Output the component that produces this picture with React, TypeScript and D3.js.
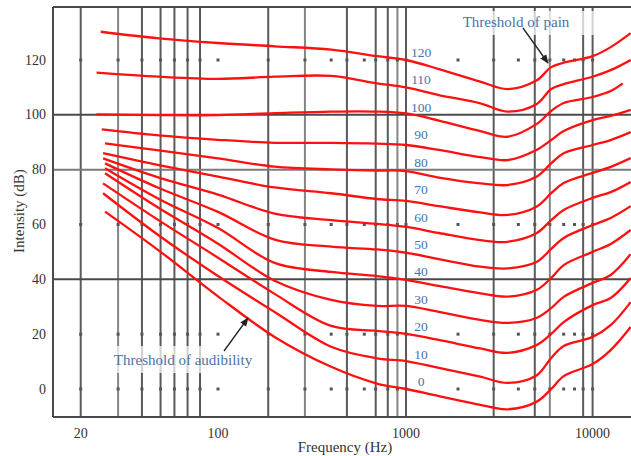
import React from "react";
import * as d3 from "d3";

const W = 631;
const H = 456;

// frequency grid of the sampled contour points (first/last replaced per curve)
const freqs = [0, 50, 100, 200, 400, 700, 1000, 1500, 2500, 3500, 5000, 6000, 7000, 10000, 12500, 0];
const phons = [0, 10, 20, 30, 40, 50, 60, 70, 80, 90, 100, 110, 120];
const startHz = [26.6, 26, 26, 26.6, 26.6, 26.6, 26, 26, 26.6, 25.6, 24.1, 24.1, 25.3];
const endHz = [16000, 16000, 16000, 16000, 16000, 16000, 16000, 16000, 16000, 16000, 14500, 16000, 16000];

const curve0 = [64.7, 50.5, 33.8, 19.0, 8.1, 2.0, 0, -2.6, -5.8, -7.4, -4.7, 0, 4.7, 9.1, 14.2, 22.6];
const curve10 = [71.4, 56.0, 41.2, 28.1, 15.4, 11.2, 10.2, 7.7, 4.5, 2.2, 4.9, 11.3, 15.7, 19.0, 23.3, 31.7];
const curve20 = [75.0, 61.5, 47.9, 34.7, 23.0, 21.2, 20.1, 17.9, 14.8, 13.2, 16.0, 20.1, 24.4, 30.6, 33.2, 40.5];
const curve30 = [78.7, 66.0, 53.0, 39.5, 32.5, 30.3, 30.3, 28.1, 25.2, 24.1, 25.9, 29.5, 33.6, 38.7, 41.6, 49.2];
const curve40 = [80.5, 69.3, 58.7, 46.0, 42.7, 41.2, 39.8, 37.6, 34.9, 33.7, 36.1, 40.5, 45.2, 50.0, 52.9, 58.0];
const curve50 = [82.3, 73.3, 64.6, 54.5, 51.9, 50.9, 49.7, 47.4, 44.6, 44.0, 46.3, 51.1, 55.1, 59.8, 62.4, 66.7];
const curve60 = [84.1, 77.1, 70.9, 64.0, 61.6, 60.2, 59.1, 56.9, 54.3, 53.7, 56.8, 61.6, 65.3, 69.7, 71.8, 75.5];
const curve70 = [86.0, 81.7, 77.5, 73.5, 71.4, 69.3, 68.6, 66.7, 64.4, 63.5, 66.5, 71.4, 75.1, 78.8, 81.0, 84.2];
const curve80 = [89.6, 87.0, 84.1, 81.1, 80.1, 79.7, 79.5, 77.1, 75.0, 74.4, 77.4, 82.3, 86.0, 89.0, 90.8, 93.7];
const curve90 = [94.7, 92.5, 90.9, 89.8, 89.8, 89.5, 89.0, 87.2, 84.6, 83.5, 87.2, 90.8, 94.1, 98.1, 99.6, 101.8];
const curve100 = [100.2, 99.9, 99.9, 100.6, 101.2, 101.2, 100.5, 97.9, 94.1, 92.0, 96.6, 101.4, 104.3, 106.5, 108.7, 111.5];
const curve110 = [115.4, 113.9, 113.1, 113.9, 114.2, 111.5, 110.0, 107.2, 104.2, 101.2, 103.9, 109.4, 111.2, 113.9, 116.3, 120.0];
const curve120 = [130.3, 127.9, 126.2, 125.0, 123.8, 121.4, 120.0, 116.7, 112.1, 109.4, 112.5, 117.4, 119.0, 121.4, 124.7, 129.8];
const curves = [curve0, curve10, curve20, curve30, curve40, curve50, curve60, curve70, curve80, curve90, curve100, curve110, curve120];

// grid
const gridHz = [20, 31, 41, 51, 60, 70, 81, 185, 290, 485, 690, 800, 900, 1000, 2950, 4900, 5900, 8900, 10000];
const lightHz = [31, 290, 900, 5900];
const dotHz = [20, 31, 41, 51, 60, 70, 81, 100, 185, 290, 400, 485, 600, 690, 800, 900, 1000, 1900, 2950, 4000, 4900, 5900, 7000, 8000, 8900, 10000];
const dotDb = [120, 60, 20, 0];
const lineDb = [100, 80, 40];

const xTicks = [20, 100, 1000, 10000];
const yTicks = [0, 20, 40, 60, 80, 100, 120];

const serif = "'Liberation Serif', 'Times New Roman', serif";
const blue = "#4574aa";

export default function App() {
  const left = 53, top = 7, right = 631, bottom = 417;
  const x = d3.scaleLog().domain([20, 100, 1000, 10000]).range([80.7, 218, 406, 592.6]);
  const y = d3.scaleLinear().domain([0, 120]).range([389, 60]);

  const line = d3
    .line<[number, number]>()
    .x((d) => x(d[0]))
    .y((d) => y(d[1]))
    .curve(d3.curveCatmullRom.alpha(0.5));

  const paths = curves.map((c, i) => {
    const pts: [number, number][] = c.map((v, j) => {
      let f = freqs[j];
      if (j === 0) f = startHz[i];
      if (j === c.length - 1) f = endHz[i];
      return [f, v];
    });
    return line(pts) || "";
  });

  return (
    <svg width={W} height={H} style={{ position: "absolute", left: 0, top: 0, background: "#fff" }}>
      <defs>
        <clipPath id="plot">
          <rect x={left} y={top} width={right - left} height={bottom - top} />
        </clipPath>
        <marker id="head" viewBox="0 0 10 10" refX="9" refY="5" markerWidth="7" markerHeight="7" orient="auto">
          <path d="M0,1 L10,5 L0,9 z" fill="#222" />
        </marker>
      </defs>
      <rect width={W} height={H} fill="#fff" />

      {gridHz.map((f) => (
        <line key={"v" + f} x1={x(f)} x2={x(f)} y1={top} y2={bottom}
          stroke={lightHz.includes(f) ? "#858585" : "#5a5a5a"} strokeWidth={2} />
      ))}
      {lineDb.map((v) => (
        <line key={"h" + v} x1={left} x2={right} y1={y(v)} y2={y(v)}
          stroke={v === 80 ? "#7a7a7a" : "#4a4a4a"} strokeWidth={2} />
      ))}
      {dotDb.map((v) =>
        dotHz.map((f) => (
          <rect key={"d" + v + "-" + f} x={x(f) - 1.5} y={y(v) - 1.5} width={3} height={3} fill="#555" />
        ))
      )}

      <line x1={left} x2={right} y1={top} y2={top} stroke="#4a4a4a" strokeWidth={2} />
      <line x1={left} x2={right} y1={bottom} y2={bottom} stroke="#4a4a4a" strokeWidth={2} />
      <line x1={left} x2={left} y1={top} y2={bottom} stroke="#4a4a4a" strokeWidth={2} />

      {/* translucent label boxes */}
      <rect x={455} y={11} width={146} height={24} fill="#fff" opacity={0.72} />
      <rect x={108} y={346} width={150} height={27} fill="#fff" opacity={0.72} />

      <g clipPath="url(#plot)">
        {paths.map((d, i) => (
          <path key={"c" + i} d={d} fill="none" stroke="#ff1010" strokeWidth={2.3} />
        ))}
      </g>

      {phons.map((p) => (
        <text key={"l" + p} x={421} y={y(p) - 7.5} textAnchor="middle" dominantBaseline="central"
          fontFamily={serif} fontSize={13.5} fill={blue}>
          {p}
        </text>
      ))}

      <line x1={523} y1={28} x2={548} y2={63} stroke="#222" strokeWidth={1.3} markerEnd="url(#head)" />
      <line x1={224} y1={351} x2={248} y2={318} stroke="#222" strokeWidth={1.3} markerEnd="url(#head)" />
      <text x={516} y={22} textAnchor="middle" dominantBaseline="central" fontFamily={serif} fontSize={15} fill={blue}>
        Threshold of pain
      </text>
      <text x={183} y={360} textAnchor="middle" dominantBaseline="central" fontFamily={serif} fontSize={15} fill={blue}>
        Threshold of audibility
      </text>

      {yTicks.map((v) => (
        <text key={"yt" + v} x={46} y={y(v)} textAnchor="end" dominantBaseline="central"
          fontFamily={serif} fontSize={14} fill="#333">
          {v}
        </text>
      ))}
      {xTicks.map((v) => (
        <text key={"xt" + v} x={x(v)} y={438} textAnchor="middle" fontFamily={serif} fontSize={14} fill="#333">
          {v}
        </text>
      ))}
      <text x={345} y={452} textAnchor="middle" fontFamily={serif} fontSize={15} fill="#333">
        Frequency (Hz)
      </text>
      <text transform="translate(24,211) rotate(-90)" textAnchor="middle" fontFamily={serif} fontSize={15} fill="#333">
        Intensity (dB)
      </text>
    </svg>
  );
}
